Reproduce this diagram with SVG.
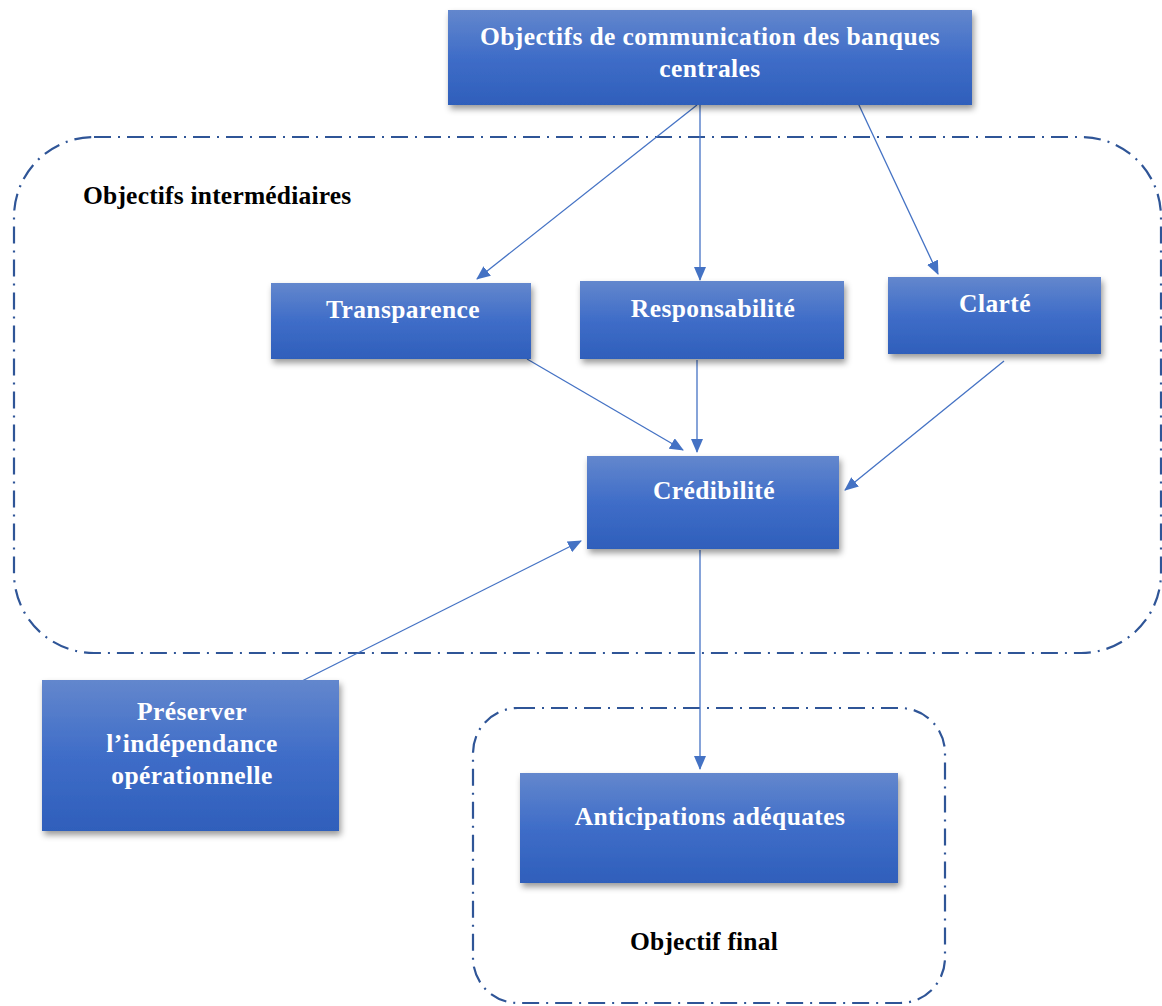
<svg xmlns="http://www.w3.org/2000/svg" width="1162" height="1006" viewBox="0 0 1162 1006">
<style>
.box{fill:url(#g);filter:url(#sh)}
.t{font-family:"Liberation Serif",serif;font-weight:bold;font-size:25.5px;letter-spacing:0.4px;fill:#fff;text-anchor:middle}
.lbl{font-family:"Liberation Serif",serif;font-weight:bold;font-size:25.5px;letter-spacing:0.2px;fill:#000}
.grp{fill:none;stroke:#2F5597;stroke-width:2.2;stroke-dasharray:17 7 2 7}
.c{stroke:#4472C4;stroke-width:1.3;fill:none;marker-end:url(#ah)}
</style>
<defs>
<linearGradient id="g" x1="0" y1="0" x2="0" y2="1">
<stop offset="0" stop-color="#6387CD"/>
<stop offset="0.5" stop-color="#3F6DC8"/>
<stop offset="1" stop-color="#2F5FBB"/>
</linearGradient>
<filter id="sh" x="-10%" y="-10%" width="125%" height="135%">
<feDropShadow dx="2" dy="4" stdDeviation="3" flood-color="#000" flood-opacity="0.4"/>
</filter>
<marker id="ah" markerWidth="14" markerHeight="12" refX="13" refY="6" orient="auto" markerUnits="userSpaceOnUse">
<path d="M0,0 L14,6 L0,12 Z" fill="#4472C4"/>
</marker>
</defs>
<rect class="grp" x="14" y="137" width="1147" height="516" rx="80" ry="80"/>
<text class="lbl" x="83" y="204">Objectifs intermédiaires</text>
<rect class="grp" x="473" y="708" width="472" height="295" rx="45" ry="45"/>
<text class="lbl" x="704" y="950" text-anchor="middle">Objectif final</text>
<g id="connectors">
<line class="c" x1="697" y1="105" x2="477" y2="279"/>
<line class="c" x1="700" y1="105" x2="700" y2="280"/>
<line class="c" x1="858" y1="103" x2="938" y2="274"/>
<line class="c" x1="527" y1="359" x2="683" y2="450"/>
<line class="c" x1="697" y1="360" x2="697" y2="452"/>
<line class="c" x1="1004" y1="361" x2="845" y2="490"/>
<line class="c" x1="302" y1="681" x2="581" y2="541"/>
<line class="c" x1="700" y1="550" x2="700" y2="769"/>
</g>
<g id="top"><rect class="box" x="448" y="10" width="524" height="95"/>
<text class="t" x="710" y="45">Objectifs de communication des banques</text>
<text class="t" x="710" y="77">centrales</text></g>
<g id="transparence"><rect class="box" x="271" y="283" width="260" height="76"/>
<text class="t" x="403" y="318">Transparence</text></g>
<g id="responsabilite"><rect class="box" x="580" y="281" width="264" height="78"/>
<text class="t" x="713" y="317">Responsabilité</text></g>
<g id="clarte"><rect class="box" x="888" y="277" width="213" height="77"/>
<text class="t" x="995" y="312">Clarté</text></g>
<g id="credibilite"><rect class="box" x="587" y="456" width="252" height="93"/>
<text class="t" x="714" y="499">Crédibilité</text></g>
<g id="preserver"><rect class="box" x="42" y="680" width="297" height="151"/>
<text class="t" x="192" y="720">Préserver</text>
<text class="t" x="192" y="752">l’indépendance</text>
<text class="t" x="192" y="784">opérationnelle</text></g>
<g id="anticipations"><rect class="box" x="520" y="773" width="378" height="110"/>
<text class="t" x="710" y="825">Anticipations adéquates</text></g>
</svg>
